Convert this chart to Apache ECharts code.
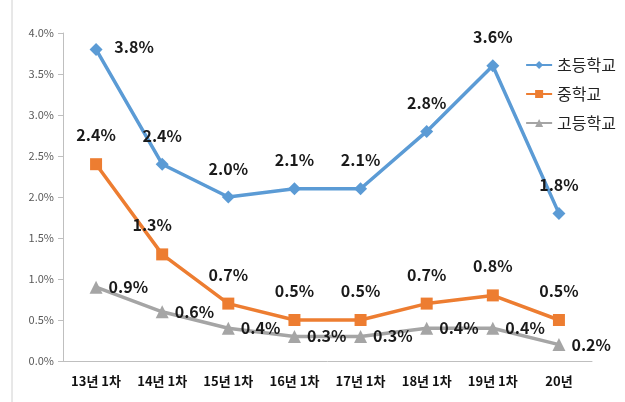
<!DOCTYPE html>
<html>
<head>
<meta charset="utf-8">
<script src="https://cdn.jsdelivr.net/npm/echarts@6/dist/echarts.min.js"></script>
<style>
  html, body { margin: 0; padding: 0; background: #fff; }
  #chart { width: 625px; height: 402px; }
</style>
</head>
<body>
<div id="chart"></div>
<script>
// 학기별 비율 (%)
const categories = ['13년 1차', '14년 1차', '15년 1차', '16년 1차', '17년 1차', '18년 1차', '19년 1차', '20년'];
const elementary = [3.8, 2.4, 2.0, 2.1, 2.1, 2.8, 3.6, 1.8];
const middle = [2.4, 1.3, 0.7, 0.5, 0.5, 0.7, 0.8, 0.5];
const high = [0.9, 0.6, 0.4, 0.3, 0.3, 0.4, 0.4, 0.2];

const labelFont = {
  fontFamily: 'Noto Sans CJK KR',
  fontWeight: 'bold',
  fontSize: 16,
  color: '#1a1a1a',
  formatter: p => p.value.toFixed(1) + '%'
};

const chart = echarts.init(document.getElementById('chart'));
chart.setOption({
  animation: false,
  textStyle: { fontFamily: 'Noto Sans CJK KR' },
  grid: { left: 63, right: 33, top: 33, bottom: 41 },
  legend: {
    orient: 'vertical',
    right: 4,
    top: 52,
    itemGap: 13,
    itemWidth: 26,
    itemHeight: 10,
    textStyle: { fontSize: 16, color: '#222', fontFamily: 'Noto Sans CJK KR' },
    data: ['초등학교', '중학교', '고등학교']
  },
  xAxis: {
    type: 'category',
    data: categories,
    boundaryGap: true,
    axisLine: { lineStyle: { color: '#bfbfbf', width: 1 } },
    axisTick: { length: 5, lineStyle: { color: '#bfbfbf' } },
    axisLabel: { margin: 14, fontSize: 13, color: '#111', fontWeight: 'bold', interval: 0 }
  },
  yAxis: {
    type: 'value',
    min: 0,
    max: 4,
    interval: 0.5,
    axisLine: { show: true, lineStyle: { color: '#bfbfbf' } },
    axisTick: { show: true, length: 5, lineStyle: { color: '#bfbfbf' } },
    splitLine: { show: false },
    axisLabel: { margin: 9, fontSize: 11, color: '#595959', formatter: v => v.toFixed(1) + '%' }
  },
  graphic: [
    { type: 'line', shape: { x1: 12, y1: 0, x2: 12, y2: 402 }, style: { stroke: '#d0d0d0', lineWidth: 1 } }
  ],
  series: [
    {
      name: '초등학교',
      type: 'line',
      data: elementary,
      symbol: 'diamond',
      symbolSize: 13,
      itemStyle: { color: '#5b9bd5' },
      lineStyle: { width: 3.5, color: '#5b9bd5' },
      label: Object.assign({ show: true, position: 'top', distance: 14 }, labelFont),
      labelLayout: params => params.dataIndex === 0 ? { dx: 38, dy: 26 } : {}
    },
    {
      name: '중학교',
      type: 'line',
      data: middle,
      symbol: 'rect',
      symbolSize: 12,
      itemStyle: { color: '#ed7d31' },
      lineStyle: { width: 3.5, color: '#ed7d31' },
      label: Object.assign({ show: true, position: 'top', distance: 15 }, labelFont),
      labelLayout: params => params.dataIndex === 1 ? { dx: -10 } : {}
    },
    {
      name: '고등학교',
      type: 'line',
      data: high,
      symbol: 'triangle',
      symbolSize: 13,
      itemStyle: { color: '#a5a5a5' },
      lineStyle: { width: 3.5, color: '#a5a5a5' },
      label: Object.assign({ show: true, position: 'right', distance: 6 }, labelFont)
    }
  ]
});
</script>
</body>
</html>
